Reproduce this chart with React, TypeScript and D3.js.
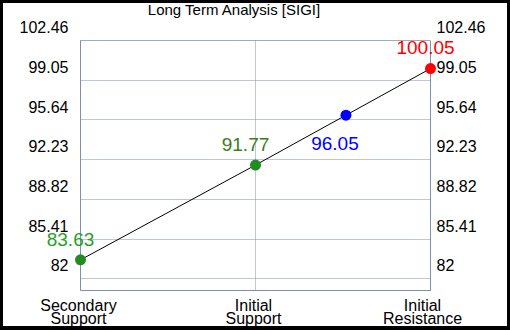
import * as d3 from "d3"

const levels = ["Secondary Support", "Initial Support", "Initial Resistance"]
const levelValues = [83.63, 91.77, 100.05]
const currentValue = 96.05
const yTicks = [82, 85.41, 88.82, 92.23, 95.64, 99.05, 102.46]
const yDomain = [81, 102.46]

const pointColors = ["#228B22", "#228B22", "#FF0000"]
const labelColors = ["#2a9d2a", "#3a7d1c", "#FF0000"]
const currentColor = "#0000FF"

export default function App() {
  const width = 510
  const height = 330
  const margin = { top: 40.5, right: 79.5, bottom: 39.5, left: 80.5 }
  const innerW = width - margin.left - margin.right
  const innerH = height - margin.top - margin.bottom

  const x = d3.scaleLinear().domain([0, levels.length - 1]).range([0, innerW])
  const y = d3.scaleLinear().domain(yDomain).range([innerH, 0])

  // current price sits on the line between support and resistance
  const curIdx = d3.scaleLinear().domain([levelValues[1], levelValues[2]]).range([1, 2])(currentValue)

  const line = d3
    .line<number>()
    .x((_, i) => x(i))
    .y((d) => y(d))

  const font = "'Liberation Sans', Arial, sans-serif"
  const axisColor = "#7f8fab"

  return (
    <svg width={width} height={height} style={{ position: "absolute", left: 0, top: 0 }} fontFamily={font}>
      <rect x={0} y={0} width={width} height={height} fill="#000" />
      <rect x={3} y={3} width={504} height={323} fill="#fff" />

      <text x={234} y={15} fontSize={15} textAnchor="middle" fill="#000">
        Long Term Analysis [SIGI]
      </text>

      <g transform={`translate(${margin.left},${margin.top})`}>
        {/* horizontal grid */}
        {yTicks.map((t) => (
          <line key={t} x1={0} x2={innerW} y1={Math.round(y(t))} y2={Math.round(y(t))} stroke={axisColor} strokeDasharray="1,1" />
        ))}
        <line x1={0} x2={innerW} y1={0} y2={0} stroke={axisColor} strokeDasharray="1,1" />
        {/* vertical grid */}
        <line x1={x(1)} x2={x(1)} y1={0} y2={innerH} stroke={axisColor} strokeDasharray="1,1" />

        {/* axes frame */}
        <line x1={0} x2={0} y1={0} y2={innerH} stroke={axisColor} />
        <line x1={innerW} x2={innerW} y1={0} y2={innerH} stroke={axisColor} />
        <line x1={0} x2={innerW} y1={innerH} y2={innerH} stroke={axisColor} />

        {/* tick labels, drawn above their grid lines */}
        {yTicks.map((t) => (
          <g key={t}>
            <text x={-12} y={y(t) - 13} dy="0.35em" fontSize={16} textAnchor="end" fill="#000">
              {t}
            </text>
            <text x={innerW + 6} y={y(t) - 13} dy="0.35em" fontSize={16} textAnchor="start" fill="#000">
              {t}
            </text>
          </g>
        ))}

        <path d={line(levelValues) || ""} fill="none" stroke="#000" strokeWidth={1} />

        {levelValues.map((v, i) => (
          <circle key={i} cx={x(i)} cy={y(v)} r={5.5} fill={pointColors[i]} />
        ))}
        <circle cx={x(curIdx)} cy={y(currentValue)} r={5.5} fill={currentColor} />

        {levelValues.map((v, i) => (
          <text
            key={i}
            x={x(i) - (i === 2 ? 5 : 10)}
            y={y(v) - 21}
            dy="0.35em"
            fontSize={19}
            textAnchor="middle"
            fill={labelColors[i]}
          >
            {v.toFixed(2)}
          </text>
        ))}
        <text x={x(curIdx) - 11} y={y(currentValue) + 28} dy="0.35em" fontSize={19} textAnchor="middle" fill={currentColor}>
          {currentValue.toFixed(2)}
        </text>

        {/* category labels */}
        {levels.map((l, i) => {
          const [a, b] = [l.split(" ")[0], l.split(" ").slice(1).join(" ")]
          const cx = i === levels.length - 1 ? x(i) - 8 : x(i) - 2
          return (
            <text key={l} x={cx} y={innerH + 20} fontSize={16} textAnchor="middle" fill="#000">
              <tspan x={cx}>{a}</tspan>
              <tspan x={cx} dy={13.5}>
                {b}
              </tspan>
            </text>
          )
        })}
      </g>
    </svg>
  )
}
